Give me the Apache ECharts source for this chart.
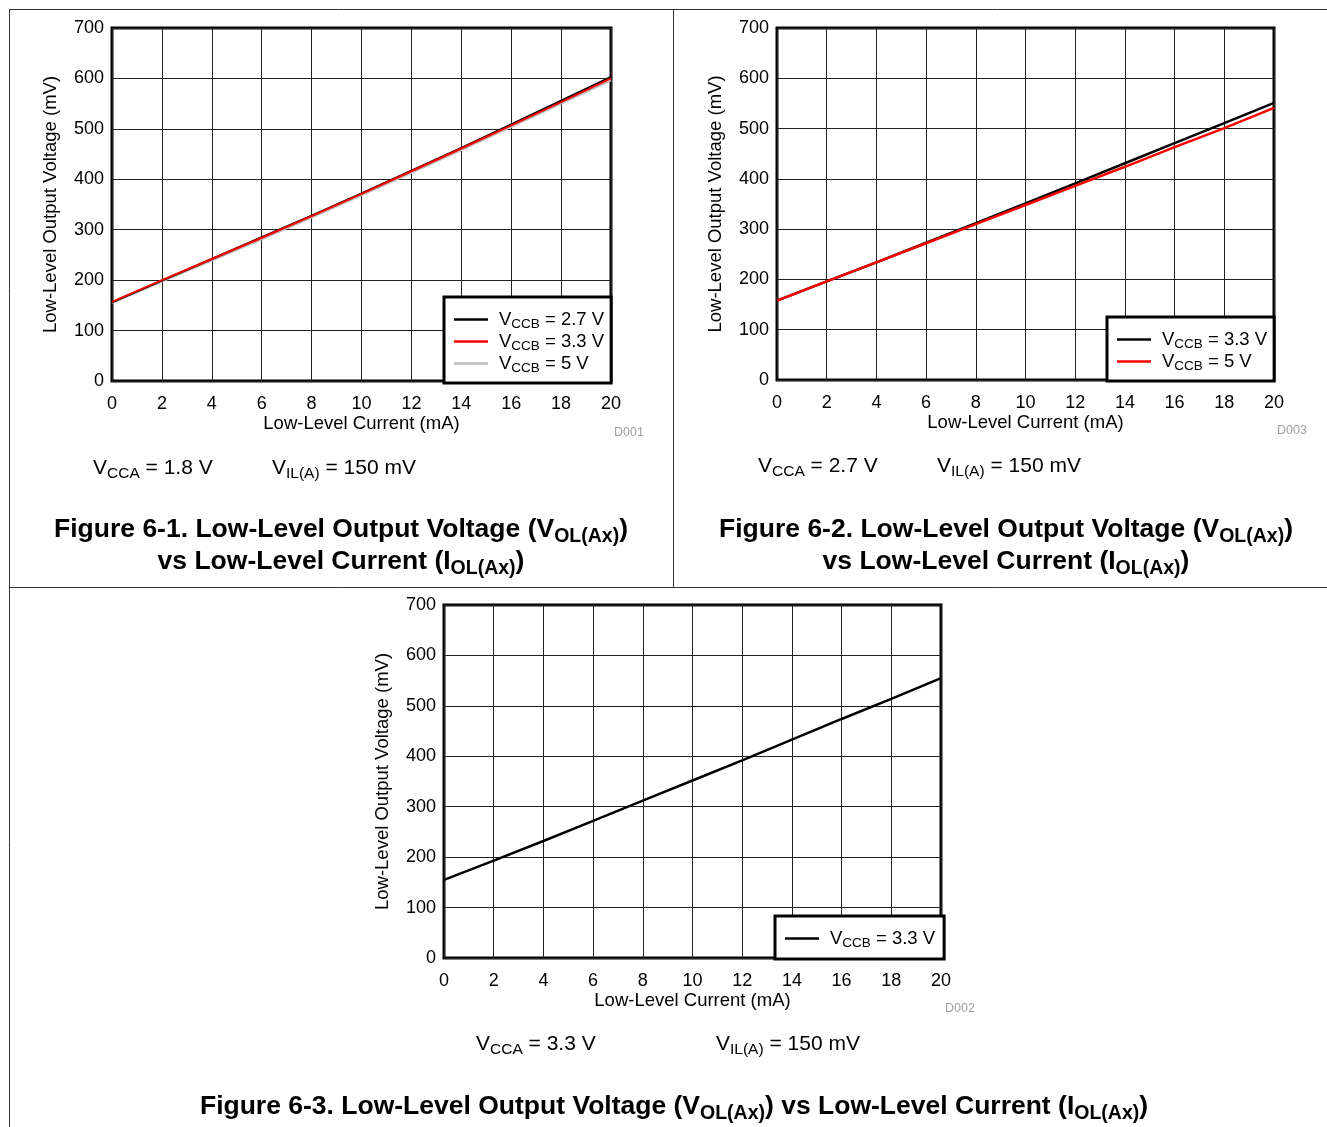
<!DOCTYPE html>
<html>
<head>
<meta charset="utf-8">
<script src="https://cdn.jsdelivr.net/npm/echarts@6/dist/echarts.min.js"></script>
<style>
html,body{margin:0;padding:0;background:#fff;}
#chart{width:1327px;height:1127px;}
</style>
</head>
<body>
<div id="chart"></div>
<script>
// ---- data ----
const currentMA = [0, 2, 4, 6, 8, 10, 12, 14, 16, 18, 20];
const fig1_vccb27 = [156, 199, 242, 285, 328, 372, 417, 462, 509, 556, 603];
const fig1_vccb33 = [157, 200, 242, 284, 327, 371, 416, 461, 507, 553, 600];
const fig1_vccb5  = [155, 197, 239, 281, 324, 368, 413, 458, 504, 550, 596];
const fig2_vccb33 = [158, 196, 234, 273, 312, 351, 391, 431, 471, 511, 551];
const fig2_vccb5  = [158, 196, 234, 272, 310, 348, 386, 424, 463, 501, 541];
const fig3_vccb33 = [155, 193, 232, 272, 312, 352, 392, 433, 474, 514, 555];
const xTickMin = 0, xTickMax = 20, xTickStep = 2;
const yTickMin = 0, yTickMax = 700, yTickStep = 100;
const legendLabels = {
  f1a: '2.7 V', f1b: '3.3 V', f1c: '5 V',
  f2a: '3.3 V', f2b: '5 V',
  f3a: '3.3 V'
};

const FONT = '"Liberation Sans", Arial, Helvetica, sans-serif';
const pair = (ys) => currentMA.map((x, i) => [x, ys[i]]);

const grids = [
  {left: 112, top: 28, width: 499, height: 353},
  {left: 777, top: 28, width: 497, height: 352},
  {left: 444, top: 605, width: 497, height: 353}
];

function xAx(i) {
  return {
    type: 'value', gridIndex: i, min: xTickMin, max: xTickMax, interval: xTickStep,
    name: 'Low-Level Current (mA)', nameLocation: 'middle', nameGap: 33,
    nameTextStyle: {fontFamily: FONT, fontSize: 18.5, color: '#000'},
    axisLine: {show: false}, axisTick: {show: false},
    axisLabel: {fontFamily: FONT, fontSize: 18, color: '#000', margin: 14},
    splitLine: {show: true, lineStyle: {color: '#222', width: 1}}
  };
}
function yAx(i) {
  return {
    type: 'value', gridIndex: i, min: yTickMin, max: yTickMax, interval: yTickStep,
    name: 'Low-Level Output Voltage (mV)', nameLocation: 'middle', nameGap: 52,
    nameTextStyle: {fontFamily: FONT, fontSize: 18.5, color: '#000'},
    axisLine: {show: false}, axisTick: {show: false},
    axisLabel: {fontFamily: FONT, fontSize: 18, color: '#000', margin: 8},
    splitLine: {show: true, lineStyle: {color: '#222', width: 1}}
  };
}
function ser(name, idx, ys, color, w) {
  return {
    name: name, type: 'line', xAxisIndex: idx, yAxisIndex: idx,
    data: pair(ys), symbol: 'none', smooth: false,
    lineStyle: {color: color, width: w}, itemStyle: {color: color},
    emphasis: {disabled: true}, animation: false
  };
}
const legendRich = {
  g: {fontFamily: FONT, fontSize: 18, color: '#000', width: 6},
  m: {fontFamily: FONT, fontSize: 18.5, color: '#000'},
  s: {fontFamily: FONT, fontSize: 13.5, color: '#000', padding: [9, 0, 0, 0]}
};
function leg(names, left, top, padR, padB) {
  return {
    data: names, orient: 'vertical', left: left, top: top,
    padding: [13, padR, padB, 10], itemWidth: 34, itemHeight: 2.5, itemGap: 1, icon: 'rect',
    borderColor: '#000', borderWidth: 3, backgroundColor: '#fff',
    selectedMode: false,
    formatter: (n) => '{g| }{m|V}{s|CCB}{m| = ' + legendLabels[n] + '}',
    textStyle: {fontFamily: FONT, fontSize: 18.5, color: '#000', rich: legendRich}
  };
}

const richTxt = {
  m: {fontFamily: FONT, fontSize: 21, fill: '#000'},
  s: {fontFamily: FONT, fontSize: 15.5, fill: '#000', padding: [11, 0, 0, 0]}
};
const richTitle = {
  b: {fontFamily: FONT, fontSize: 26.5, fontWeight: 'bold', fill: '#000'},
  s: {fontFamily: FONT, fontSize: 19.5, fontWeight: 'bold', fill: '#000', padding: [13, 0, 0, 0]}
};
function txt(x, y, text, rich, align) {
  return {type: 'text', x: x, y: y, silent: true,
    style: {text: text, rich: rich, align: align || 'left', verticalAlign: 'middle'}};
}
function plain(x, y, text, size, color) {
  return {type: 'text', x: x, y: y, silent: true,
    style: {text: text, fontFamily: FONT, fontSize: size, fill: color, align: 'left', verticalAlign: 'middle'}};
}
function ln(x1, y1, x2, y2) {
  return {type: 'line', silent: true, shape: {x1: x1, y1: y1, x2: x2, y2: y2},
    style: {stroke: '#333', lineWidth: 1}};
}

const option = {
  backgroundColor: '#fff',
  animation: false,
  grid: grids.map(g => Object.assign({show: true, borderColor: '#000', borderWidth: 3, backgroundColor: 'transparent', containLabel: false}, g)),
  xAxis: [xAx(0), xAx(1), xAx(2)],
  yAxis: [yAx(0), yAx(1), yAx(2)],
  legend: [
    leg(['f1a', 'f1b', 'f1c'], 444, 297, 7, 8),
    leg(['f2a', 'f2b'], 1107, 317, 7, 8),
    leg(['f3a'], 775, 916, 9, 9)
  ],
  series: [
    ser('f1c', 0, fig1_vccb5, '#bdbdbd', 2),
    ser('f1a', 0, fig1_vccb27, '#000000', 2),
    ser('f1b', 0, fig1_vccb33, '#ff0000', 2),
    ser('f2a', 1, fig2_vccb33, '#000000', 2.5),
    ser('f2b', 1, fig2_vccb5, '#ff0000', 2.5),
    ser('f3a', 2, fig3_vccb33, '#000000', 2.5)
  ],
  graphic: [
    ln(9, 9.5, 1327, 9.5),
    ln(9.5, 9, 9.5, 1127),
    ln(673.5, 9, 673.5, 587),
    ln(9, 587.5, 1327, 587.5),
    plain(614, 433, 'D001', 12.5, '#a0a0a0'),
    plain(1277, 431, 'D003', 12.5, '#a0a0a0'),
    plain(945, 1009, 'D002', 12.5, '#a0a0a0'),
    txt(93, 468, '{m|V}{s|CCA}{m| = 1.8 V}', richTxt),
    txt(272, 468, '{m|V}{s|IL(A)}{m| = 150 mV}', richTxt),
    txt(758, 466, '{m|V}{s|CCA}{m| = 2.7 V}', richTxt),
    txt(937, 466, '{m|V}{s|IL(A)}{m| = 150 mV}', richTxt),
    txt(476, 1044, '{m|V}{s|CCA}{m| = 3.3 V}', richTxt),
    txt(716, 1044, '{m|V}{s|IL(A)}{m| = 150 mV}', richTxt),
    txt(341, 530, '{b|Figure 6-1. Low-Level Output Voltage (V}{s|OL(Ax)}{b|)}', richTitle, 'center'),
    txt(341, 562, '{b|vs Low-Level Current (I}{s|OL(Ax)}{b|)}', richTitle, 'center'),
    txt(1006, 530, '{b|Figure 6-2. Low-Level Output Voltage (V}{s|OL(Ax)}{b|)}', richTitle, 'center'),
    txt(1006, 562, '{b|vs Low-Level Current (I}{s|OL(Ax)}{b|)}', richTitle, 'center'),
    txt(674, 1107, '{b|Figure 6-3. Low-Level Output Voltage (V}{s|OL(Ax)}{b|) vs Low-Level Current (I}{s|OL(Ax)}{b|)}', richTitle, 'center')
  ]
};

const chart = echarts.init(document.getElementById('chart'), null, {renderer: 'canvas'});
chart.setOption(option);
</script>
</body>
</html>
